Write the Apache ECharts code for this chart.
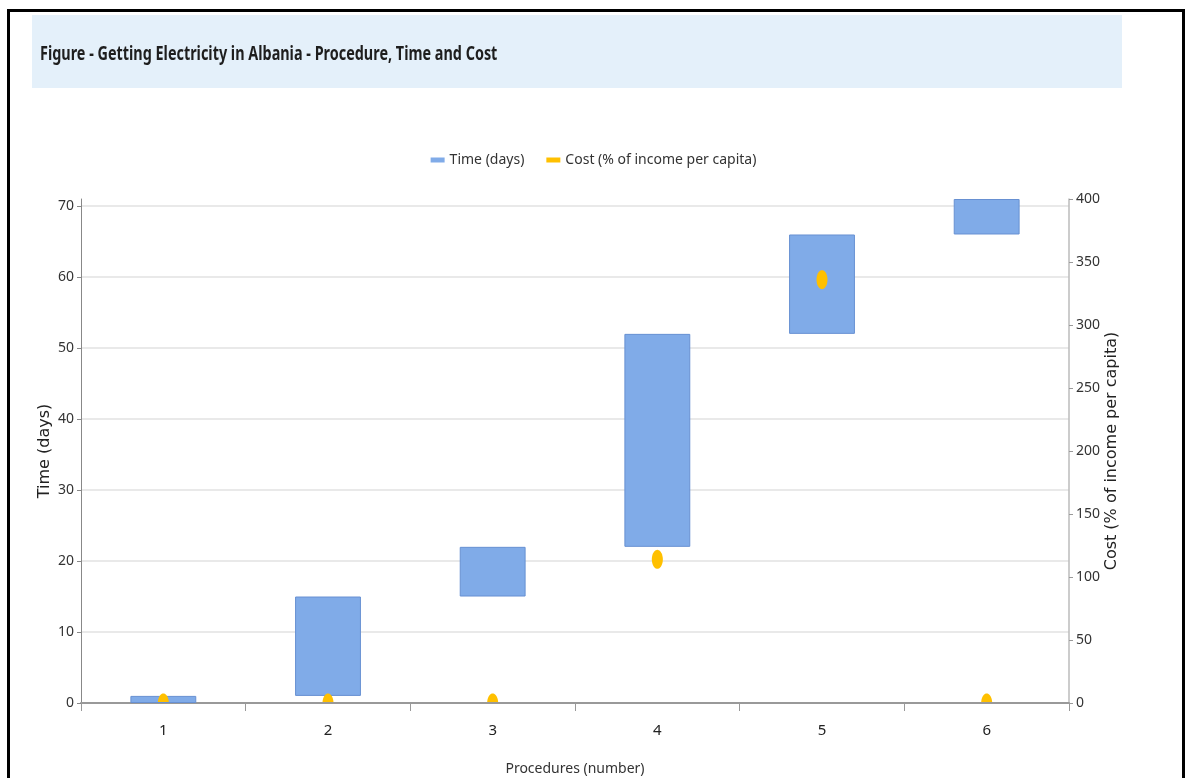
<!DOCTYPE html>
<html>
<head>
<meta charset="utf-8">
<script src="https://cdn.jsdelivr.net/npm/echarts@6/dist/echarts.min.js"></script>
<style>
  html, body { margin: 0; padding: 0; background: #fff; overflow: hidden; }
  #chart { width: 1187px; height: 778px; }
</style>
</head>
<body>
<div id="chart"></div>
<script>
// ---- Data ----
const procedures = ['1', '2', '3', '4', '5', '6'];
const timeStart = [0, 1, 15, 22, 52, 66];      // days (bar bottom)
const timeEnd   = [1, 15, 22, 52, 66, 71];     // days (bar top)
const costValues = [0, 0, 0, 114, 336, 0];     // % of income per capita
const leftTicks = [0, 10, 20, 30, 40, 50, 60, 70];
const rightTicks = [0, 50, 100, 150, 200, 250, 300, 350, 400];
const titleText = 'Figure - Getting Electricity in Albania - Procedure, Time and Cost';

const uiFont = '"Noto Sans", "Open Sans", sans-serif';
const nameFont = '"DejaVu Sans", Verdana, sans-serif';

const timeDur = timeEnd.map((v, i) => v - timeStart[i]);
const costData = costValues.map((v, i) => [i, v]);

const chart = echarts.init(document.getElementById('chart'), null, { renderer: 'canvas', width: 1187, height: 778 });

const splitColors = leftTicks.map(() => '#e2e2e2').concat(['rgba(0,0,0,0)']);

const option = {
  animation: false,
  backgroundColor: '#fff',
  graphic: [
    { type: 'rect', z: -10, shape: { x: 32, y: 15, width: 1090, height: 73 }, style: { fill: '#e4f0fa' } },
    { type: 'text', z: 10, x: 40, y: 54, scaleX: 0.72,
      style: { text: titleText, font: 'bold 20px "Noto Sans", "Open Sans", sans-serif', fill: '#1e1e1e', verticalAlign: 'middle', align: 'left' } },
    { type: 'rect', z: 100, shape: { x: 8.5, y: 10.5, width: 1175, height: 820 }, style: { fill: 'none', stroke: '#000', lineWidth: 3 } }
  ],
  legend: {
    data: [
      { name: 'Time (days)', icon: 'rect', itemStyle: { borderWidth: 0 } },
      { name: 'Cost (% of income per capita)', icon: 'rect', itemStyle: { borderWidth: 0 } }
    ],
    left: 'center', top: 148,
    itemWidth: 14, itemHeight: 5, itemGap: 22,
    textStyle: { fontFamily: uiFont, fontSize: 14, color: '#333' }
  },
  grid: { left: 81, right: 118, top: 199, bottom: 75, containLabel: false, outerBoundsMode: 'none' },
  xAxis: {
    type: 'category',
    data: procedures,
    name: 'Procedures (number)',
    nameLocation: 'middle',
    nameGap: 59,
    nameMoveOverlap: false,
    nameTextStyle: { fontFamily: uiFont, fontSize: 14, color: '#333' },
    axisLine: { lineStyle: { color: '#999', width: 2 } },
    axisTick: { show: true, alignWithLabel: false, length: 8, lineStyle: { color: '#999' } },
    axisLabel: { fontFamily: uiFont, fontSize: 15, color: '#222', margin: 20 },
    splitLine: { show: false }
  },
  yAxis: [
    {
      type: 'value',
      min: 0, max: 71, interval: 10,
      name: 'Time (days)',
      nameLocation: 'middle',
      nameGap: 28,
      nameMoveOverlap: false,
      nameTextStyle: { fontFamily: nameFont, fontSize: 16, color: '#222' },
      axisLine: { show: true, lineStyle: { color: '#888' } },
      axisTick: { show: true, length: 4, customValues: leftTicks, lineStyle: { color: '#888' } },
      axisLabel: {
        fontFamily: uiFont, fontSize: 14, color: '#333', margin: 7,
        customValues: leftTicks,
        formatter: v => (leftTicks.indexOf(v) >= 0 ? String(v) : '')
      },
      splitLine: { show: true, lineStyle: { color: splitColors, width: 1.5 } }
    },
    {
      type: 'value',
      min: 0, max: 400, interval: 50,
      position: 'right',
      name: 'Cost (% of income per capita)',
      nameLocation: 'middle',
      nameGap: 35,
      nameMoveOverlap: false,
      nameRotate: 90,
      nameTextStyle: { fontFamily: nameFont, fontSize: 16, color: '#222' },
      axisLine: { show: true, lineStyle: { color: '#bbb', width: 1.5 } },
      axisTick: { show: true, length: 4, lineStyle: { color: '#999' } },
      axisLabel: {
        fontFamily: uiFont, fontSize: 14, color: '#333', margin: 7,
        formatter: v => (rightTicks.indexOf(v) >= 0 ? String(v) : '')
      },
      splitLine: { show: false }
    }
  ],
  series: [
    {
      name: 'base',
      type: 'bar',
      stack: 'time',
      yAxisIndex: 0,
      barWidth: '40%',
      data: timeStart,
      itemStyle: { color: 'rgba(0,0,0,0)', borderWidth: 0 },
      emphasis: { disabled: true },
      silent: true,
      z: 1
    },
    {
      name: 'Time (days)',
      type: 'bar',
      stack: 'time',
      yAxisIndex: 0,
      barWidth: '40%',
      data: timeDur,
      itemStyle: { color: '#80abe8', borderColor: '#6790d2', borderWidth: 1 },
      z: 2
    },
    {
      name: 'Cost (% of income per capita)',
      type: 'custom',
      yAxisIndex: 1,
      data: costData,
      encode: { x: 0, y: 1 },
      itemStyle: { color: '#ffc000' },
      z: 5,
      renderItem: function (params, api) {
        const p = api.coord([api.value(0), api.value(1)]);
        const cs = params.coordSys;
        const bottom = cs.y + cs.height;
        const rx = 5.5, ry = 9.5;
        const pts = [];
        for (let k = 0; k <= 48; k++) {
          const a = (k / 48) * Math.PI * 2;
          const x = p[0] + rx * Math.cos(a);
          const y = Math.min(p[1] + ry * Math.sin(a), bottom - 1);
          pts.push([x, y]);
        }
        return {
          type: 'polygon',
          shape: { points: pts },
          style: { fill: '#ffc000' }
        };
      }
    }
  ]
};

chart.setOption(option);
</script>
</body>
</html>
